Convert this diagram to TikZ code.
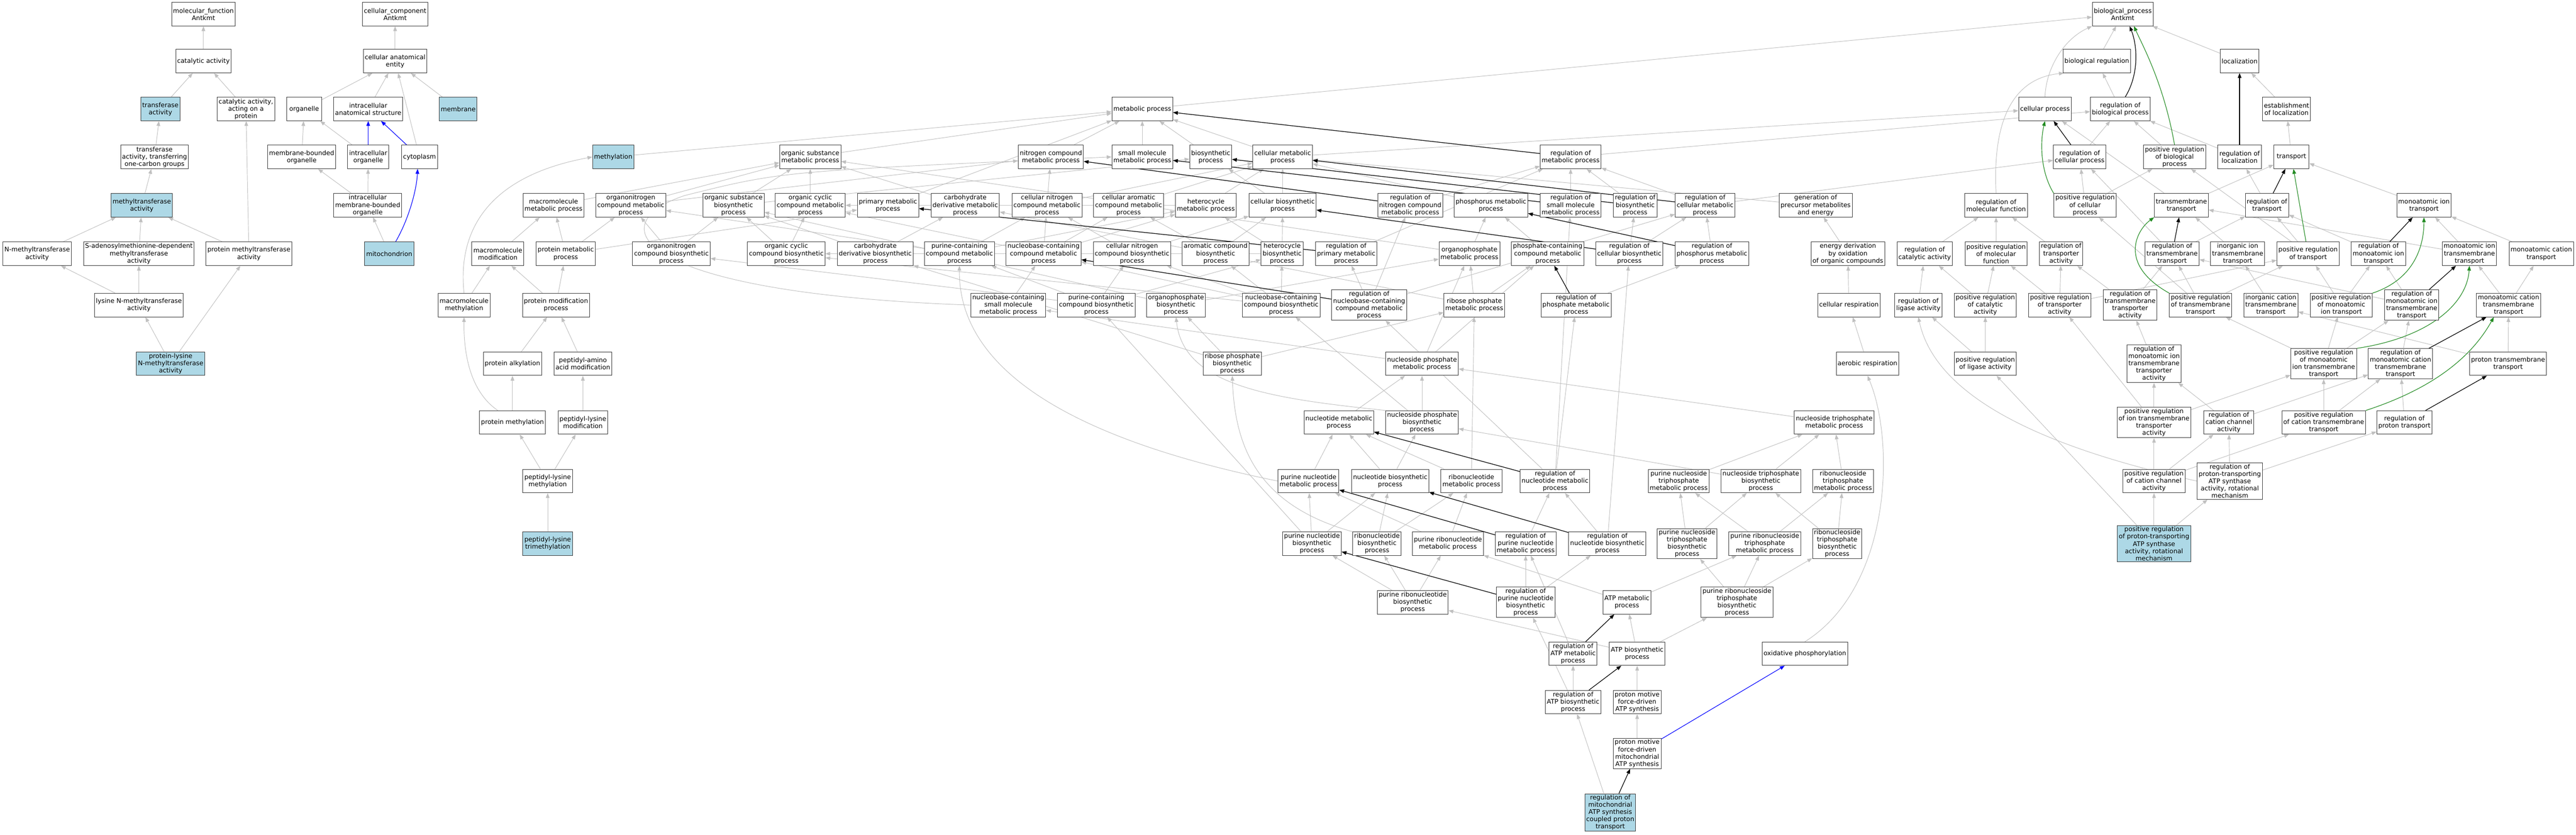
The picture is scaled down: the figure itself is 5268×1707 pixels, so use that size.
\documentclass[tikz,border=0pt]{standalone}
\usepackage{fontspec}
\setmainfont{DejaVu Sans}
\usetikzlibrary{arrows.meta}
\definecolor{edgegray}{HTML}{C0C0C0}
\definecolor{lblue}{HTML}{ADD8E6}
\definecolor{fgreen}{HTML}{228B22}
\newcommand\nf{\fontsize{13}{14.8}\selectfont}
\pgfdeclarelayer{back}\pgfdeclarelayer{edges}\pgfsetlayers{back,edges,main}
\tikzset{
 gobox/.style={draw=black!78, line width=1pt, fill=white, align=center, inner xsep=3pt, inner ysep=2.5pt, minimum width=72pt, minimum height=48pt, font=\nf},
 gohl/.style={gobox, fill=lblue},
 isa/.style={draw=edgegray, line width=1pt, -{Triangle[length=10pt,width=7.5pt]}},
 regl/.style={draw=black, line width=1.3pt, -{Triangle[length=10pt,width=7.5pt]}},
 posreg/.style={draw=fgreen, line width=1.2pt, -{Triangle[length=10pt,width=7.5pt]}},
 partof/.style={draw=blue, line width=1.2pt, -{Triangle[length=10pt,width=7.5pt]}}
}
\begin{document}
\begin{tikzpicture}[x=1pt,y=-1pt]
\begin{pgfonlayer}{back}
\fill[white] (0,0) rectangle (5268,1707);
\end{pgfonlayer}
\useasboundingbox (0,0) rectangle (5268,1707);
% ---------- molecular function ----------
\node[gobox] (mf) at (416,29) {molecular\_function\\Antkmt};
\node[gobox] (ca) at (416,125) {catalytic activity};
\node[gohl] (ta) at (328,223) {transferase\\activity};
\node[gobox] (cap) at (503,223) {catalytic activity,\\acting on a\\protein};
\node[gobox] (ta1) at (316,321) {transferase\\activity, transferring\\one-carbon groups};
\node[gohl] (mta) at (290,420) {methyltransferase\\activity};
\node[gobox] (nmt) at (76,519) {N-methyltransferase\\activity};
\node[gobox] (sam) at (284,519) {S-adenosylmethionine-dependent\\methyltransferase\\activity};
\node[gobox] (pmt) at (509,519) {protein methyltransferase\\activity};
\node[gobox] (lnm) at (284,624) {lysine N-methyltransferase\\activity};
\node[gohl] (plnm) at (349,744) {protein-lysine\\N-methyltransferase\\activity};
% ---------- cellular component ----------
\node[gobox] (cc) at (808,29) {cellular\_component\\Antkmt};
\node[gobox] (cae) at (808,125) {cellular anatomical\\entity};
\node[gobox] (org) at (622,223) {organelle};
\node[gobox] (ias) at (753,223) {intracellular\\anatomical structure};
\node[gohl] (mem) at (937,223) {membrane};
\node[gobox] (mbo) at (617,321) {membrane-bounded\\organelle};
\node[gobox] (io) at (753,321) {intracellular\\organelle};
\node[gobox] (cyt) at (858,321) {cytoplasm};
\node[gobox] (imbo) at (752,420) {intracellular\\membrane-bounded\\organelle};
\node[gohl] (mito) at (796,519) {mitochondrion};
% ---------- biological process, left ----------
\node[gohl] (meth) at (1254,321) {methylation};
\node[gobox] (osmp) at (1657,321) {organic substance\\metabolic process};
\node[gobox] (mmp) at (1132,420) {macromolecule\\metabolic process};
\node[gobox] (ocmp) at (1290,420) {organonitrogen\\compound metabolic\\process};
\node[gobox] (osbp) at (1500,420) {organic substance\\biosynthetic\\process};
\node[gobox] (occmp) at (1657,420) {organic cyclic\\compound metabolic\\process};
\node[gobox] (pmp) at (1816,420) {primary metabolic\\process};
\node[gobox] (mmod) at (1018,519) {macromolecule\\modification};
\node[gobox] (protmp) at (1157,519) {protein metabolic\\process};
\node[gobox] (ocbp) at (1373,519) {organonitrogen\\compound biosynthetic\\process};
\node[gobox] (occbp) at (1608,519) {organic cyclic\\compound biosynthetic\\process};
\node[gobox] (cdbp) at (1790,519) {carbohydrate\\derivative biosynthetic\\process};
\node[gobox] (mmeth) at (949,624) {macromolecule\\methylation};
\node[gobox] (pmod) at (1137,624) {protein modification\\process};
\node[gobox] (palk) at (1048,744) {protein alkylation};
\node[gobox] (paam) at (1192,744) {peptidyl-amino\\acid modification};
\node[gobox] (pmeth) at (1048,864) {protein methylation};
\node[gobox] (plm) at (1192,864) {peptidyl-lysine\\modification};
\node[gobox] (plme) at (1120,984) {peptidyl-lysine\\methylation};
\node[gohl] (plt) at (1120,1112) {peptidyl-lysine\\trimethylation};
% ---------- middle ----------
\node[gobox] (mp) at (2336,223) {metabolic process};
\node[gobox] (ncmp) at (2149,321) {nitrogen compound\\metabolic process};
\node[gobox] (smmp) at (2336,321) {small molecule\\metabolic process};
\node[gobox] (bp) at (2476,321) {biosynthetic\\process};
\node[gobox] (cmp) at (2623,321) {cellular metabolic\\process};
\node[gobox] (cdmp) at (1974,420) {carbohydrate\\derivative metabolic\\process};
\node[gobox] (cncmp) at (2141,420) {cellular nitrogen\\compound metabolic\\process};
\node[gobox] (cacmp) at (2308,420) {cellular aromatic\\compound metabolic\\process};
\node[gobox] (hmp) at (2466,420) {heterocycle\\metabolic process};
\node[gobox] (cbp) at (2623,420) {cellular biosynthetic\\process};
\node[gobox] (pccmp) at (1962,519) {purine-containing\\compound metabolic\\process};
\node[gobox] (nbcmp) at (2134,519) {nucleobase-containing\\compound metabolic\\process};
\node[gobox] (cncbp) at (2315,519) {cellular nitrogen\\compound biosynthetic\\process};
\node[gobox] (acbp) at (2486,519) {aromatic compound\\biosynthetic\\process};
\node[gobox] (hbp) at (2622,519) {heterocycle\\biosynthetic\\process};
\node[gobox] (nbsm) at (2062,624) {nucleobase-containing\\small molecule\\metabolic process};
\node[gobox] (pccbp) at (2242,624) {purine-containing\\compound biosynthetic\\process};
\node[gobox] (opbp) at (2405,624) {organophosphate\\biosynthetic\\process};
\node[gobox] (nbcbp) at (2620,624) {nucleobase-containing\\compound biosynthetic\\process};
\node[gobox] (rpbp) at (2520,744) {ribose phosphate\\biosynthetic\\process};
\node[gobox] (rmp) at (3212,321) {regulation of\\metabolic process};
\node[gobox] (rncmp) at (2884,420) {regulation of\\nitrogen compound\\metabolic process};
\node[gobox] (phmp) at (3049,420) {phosphorus metabolic\\process};
\node[gobox] (rsmmp) at (3212,420) {regulation of\\small molecule\\metabolic process};
\node[gobox] (rbp) at (3344,420) {regulation of\\biosynthetic\\process};
\node[gobox] (rcmp) at (3487,420) {regulation of\\cellular metabolic\\process};
\node[gobox] (rpmp) at (2753,519) {regulation of\\primary metabolic\\process};
\node[gobox] (opmp) at (3005,519) {organophosphate\\metabolic process};
\node[gobox] (pcmp) at (3165,519) {phosphate-containing\\compound metabolic\\process};
\node[gobox] (rcbp) at (3332,519) {regulation of\\cellular biosynthetic\\process};
\node[gobox] (rphmp) at (3501,519) {regulation of\\phosphorus metabolic\\process};
\node[gobox] (rnbcmp) at (2800,624) {regulation of\\nucleobase-containing\\compound metabolic\\process};
\node[gobox] (rpmpm) at (3015,624) {ribose phosphate\\metabolic process};
\node[gobox] (rphatmp) at (3223,624) {regulation of\\phosphate metabolic\\process};
\node[gobox] (npmp) at (2908,744) {nucleoside phosphate\\metabolic process};
\node[gobox] (nmp) at (2738,864) {nucleotide metabolic\\process};
\node[gobox] (npbp) at (2908,864) {nucleoside phosphate\\biosynthetic\\process};
\node[gobox] (ntmp) at (3751,864) {nucleoside triphosphate\\metabolic process};
\node[gobox] (pnmp) at (2676,984) {purine nucleotide\\metabolic process};
\node[gobox] (nbp) at (2843,984) {nucleotide biosynthetic\\process};
\node[gobox] (rnmp) at (3009,984) {ribonucleotide\\metabolic process};
\node[gobox] (rnm) at (3180,984) {regulation of\\nucleotide metabolic\\process};
\node[gobox] (pntmp) at (3433,984) {purine nucleoside\\triphosphate\\metabolic process};
\node[gobox] (ntbp) at (3601,984) {nucleoside triphosphate\\biosynthetic\\process};
\node[gobox] (rntmp) at (3769,984) {ribonucleoside\\triphosphate\\metabolic process};
\node[gobox] (pnbp) at (2683,1112) {purine nucleotide\\biosynthetic\\process};
\node[gobox] (rnbp) at (2816,1112) {ribonucleotide\\biosynthetic\\process};
\node[gobox] (prmp) at (2961,1112) {purine ribonucleotide\\metabolic process};
\node[gobox] (rpnm) at (3120,1112) {regulation of\\purine nucleotide\\metabolic process};
\node[gobox] (rnb) at (3287,1112) {regulation of\\nucleotide biosynthetic\\process};
\node[gobox] (pntbp) at (3450,1112) {purine nucleoside\\triphosphate\\biosynthetic\\process};
\node[gobox] (prtmp) at (3609,1112) {purine ribonucleoside\\triphosphate\\metabolic process};
\node[gobox] (rtbp) at (3757,1112) {ribonucleoside\\triphosphate\\biosynthetic\\process};
\node[gobox] (prbp) at (2889,1232) {purine ribonucleotide\\biosynthetic\\process};
\node[gobox] (rpnb) at (3120,1232) {regulation of\\purine nucleotide\\biosynthetic\\process};
\node[gobox] (atpm) at (3327,1232) {ATP metabolic\\process};
\node[gobox] (prtbp) at (3552,1232) {purine ribonucleoside\\triphosphate\\biosynthetic\\process};
\node[gobox] (ratpm) at (3217,1337) {regulation of\\ATP metabolic\\process};
\node[gobox] (atpb) at (3348,1337) {ATP biosynthetic\\process};
\node[gobox] (oxp) at (3691,1337) {oxidative phosphorylation};
\node[gobox] (ratpb) at (3217,1436) {regulation of\\ATP biosynthetic\\process};
\node[gobox] (pmf) at (3348,1436) {proton motive\\force-driven\\ATP synthesis};
\node[gobox] (pmfm) at (3348,1541) {proton motive\\force-driven\\mitochondrial\\ATP synthesis};
\node[gohl] (rmit) at (3293,1662) {regulation of\\mitochondrial\\ATP synthesis\\coupled proton\\transport};
% ---------- right ----------
\node[gobox] (bpr) at (4341,29) {biological\_process\\Antkmt};
\node[gobox] (breg) at (4288,125) {biological regulation};
\node[gobox] (loc) at (4580,125) {localization};
\node[gobox] (cp) at (4182,223) {cellular process};
\node[gobox] (rbiop) at (4336,223) {regulation of\\biological process};
\node[gobox] (eloc) at (4676,223) {establishment\\of localization};
\node[gobox] (rcp) at (4253,321) {regulation of\\cellular process};
\node[gobox] (prbiop) at (4447,321) {positive regulation\\of biological\\process};
\node[gobox] (rloc) at (4580,321) {regulation of\\localization};
\node[gobox] (tr) at (4686,321) {transport};
\node[gobox] (gpme) at (3713,420) {generation of\\precursor metabolites\\and energy};
\node[gobox] (rmf) at (4082,420) {regulation of\\molecular function};
\node[gobox] (prcp) at (4264,420) {positive regulation\\of cellular\\process};
\node[gobox] (tmt) at (4461,420) {transmembrane\\transport};
\node[gobox] (rtr) at (4636,420) {regulation of\\transport};
\node[gobox] (mit) at (4957,420) {monoatomic ion\\transport};
\node[gobox] (edo) at (3779,519) {energy derivation\\by oxidation\\of organic compounds};
\node[gobox] (rca) at (3936,519) {regulation of\\catalytic activity};
\node[gobox] (prmf) at (4082,519) {positive regulation\\of molecular\\function};
\node[gobox] (rta) at (4215,519) {regulation of\\transporter\\activity};
\node[gobox] (rtmt) at (4442,519) {regulation of\\transmembrane\\transport};
\node[gobox] (iitt) at (4576,519) {inorganic ion\\transmembrane\\transport};
\node[gobox] (prtr) at (4720,519) {positive regulation\\of transport};
\node[gobox] (rmit2) at (4864,519) {regulation of\\monoatomic ion\\transport};
\node[gobox] (mitt) at (5050,519) {monoatomic ion\\transmembrane\\transport};
\node[gobox] (mct) at (5197,519) {monoatomic cation\\transport};
\node[gobox] (cr) at (3781,624) {cellular respiration};
\node[gobox] (rla) at (3923,624) {regulation of\\ligase activity};
\node[gobox] (prca) at (4060,624) {positive regulation\\of catalytic\\activity};
\node[gobox] (prta) at (4212,624) {positive regulation\\of transporter\\activity};
\node[gobox] (rtta) at (4356,624) {regulation of\\transmembrane\\transporter\\activity};
\node[gobox] (prtmt) at (4500,624) {positive regulation\\of transmembrane\\transport};
\node[gobox] (ictt) at (4644,624) {inorganic cation\\transmembrane\\transport};
\node[gobox] (prmit) at (4788,624) {positive regulation\\of monoatomic\\ion transport};
\node[gobox] (rmitt) at (4932,624) {regulation of\\monoatomic ion\\transmembrane\\transport};
\node[gobox] (mctt) at (5130,624) {monoatomic cation\\transmembrane\\transport};
\node[gobox] (ar) at (3819,744) {aerobic respiration};
\node[gobox] (prla) at (4060,744) {positive regulation\\of ligase activity};
\node[gobox] (rmitta) at (4405,744) {regulation of\\monoatomic ion\\transmembrane\\transporter\\activity};
\node[gobox] (prmitt) at (4752,744) {positive regulation\\of monoatomic\\ion transmembrane\\transport};
\node[gobox] (rmctt) at (4909,744) {regulation of\\monoatomic cation\\transmembrane\\transport};
\node[gobox] (ptt) at (5129,744) {proton transmembrane\\transport};
\node[gobox] (pritta) at (4405,864) {positive regulation\\of ion transmembrane\\transporter\\activity};
\node[gobox] (rcca) at (4558,864) {regulation of\\cation channel\\activity};
\node[gobox] (prctt) at (4752,864) {positive regulation\\of cation transmembrane\\transport};
\node[gobox] (rpt) at (4917,864) {regulation of\\proton transport};
\node[gobox] (prcca) at (4405,984) {positive regulation\\of cation channel\\activity};
\node[gobox] (rpta) at (4560,984) {regulation of\\proton-transporting\\ATP synthase\\activity, rotational\\mechanism};
\node[gohl] (prpta) at (4405,1112) {positive regulation\\of proton-transporting\\ATP synthase\\activity, rotational\\mechanism};
% ---------- edges ----------
\begin{pgfonlayer}{edges}
\foreach \a/\b in {ca/mf, ta/ca, cap/ca, ta1/ta, mta/ta1, nmt/mta, sam/mta, pmt/mta, pmt/cap, lnm/nmt, lnm/sam, plnm/lnm, plnm/pmt,
 cae/cc, org/cae, ias/cae, cyt/cae, mem/cae, mbo/org, io/org, imbo/mbo, imbo/io, mito/imbo,
 mp/bpr, meth/mp, osmp/mp, ncmp/mp, smmp/mp, bp/mp, cmp/mp, cmp/cp, pmp/mp, rmp/rbiop, rbiop/breg, breg/bpr, prbiop/rbiop, rcp/rbiop, loc/bpr, eloc/loc, rloc/rbiop, tr/eloc,
 mmp/osmp, ocmp/osmp, ocmp/ncmp, osbp/osmp, osbp/bp, occmp/osmp, cdmp/osmp, cncmp/ncmp, cncmp/cmp, cacmp/cmp, hmp/occmp, hmp/cmp, cbp/cmp, cbp/bp, rncmp/rmp, phmp/cmp, rsmmp/rmp, rbp/rmp, rcmp/rmp, rcmp/rcp, gpme/cmp, prcp/rcp, prcp/prbiop, tmt/tr, tmt/cp, rtr/rloc, mit/tr,
 mmod/mmp, protmp/mmp, protmp/ocmp, protmp/pmp, ocbp/ocmp, ocbp/osbp, occbp/osbp, occbp/occmp, cdbp/osbp, cdbp/cdmp, pccmp/ocmp, pccmp/cncmp, pccmp/hmp, nbcmp/cncmp, nbcmp/cacmp, nbcmp/hmp, nbcmp/occmp, cncbp/cncmp, cncbp/cbp, acbp/cacmp, acbp/cbp, hbp/hmp, hbp/cbp, hbp/occbp, rpmp/rmp, opmp/phmp, opmp/osmp, pcmp/phmp, rcbp/rbp, rcbp/rcmp, rphmp/rcmp, edo/gpme, rca/rmf, prmf/rmf, rta/rmf, rtmt/rtr, rtmt/rcp, iitt/tmt, prtr/rtr, prtr/prbiop, rmit2/rtr, mitt/mit, mitt/tmt, mct/mit,
 mmeth/mmod, pmod/mmod, pmod/protmp, nbsm/nbcmp, pccbp/pccmp, pccbp/hbp, pccbp/ocbp, pccbp/cncbp, opbp/opmp, opbp/osbp, nbcbp/nbcmp, nbcbp/acbp, nbcbp/hbp, nbcbp/cncbp, nbcbp/occbp, rnbcmp/rpmp, rnbcmp/rncmp, rnbcmp/rcmp, rpmpm/opmp, rpmpm/cdmp, rpmpm/pcmp, rphatmp/rphmp, cr/edo, rla/rca, prca/rca, prca/prmf, prta/prmf, prta/rta, prta/prtr, rtta/rta, rtta/rtmt, prtmt/rtmt, prtmt/prtr, prtmt/prcp, ictt/iitt, prmit/rmit2, prmit/prtr, rmitt/rmit2, rmitt/rtmt, mctt/mitt, mctt/mct,
 palk/pmod, paam/pmod, rpbp/opbp, rpbp/rpmpm, rpbp/cdbp, npmp/nbsm, npmp/opmp, npmp/pcmp, ar/cr, prla/rla, prla/prca, rmitta/rtta, prmitt/prmit, prmitt/rmitt, prmitt/prtmt, rmctt/rmitt, ptt/mctt, ptt/ictt,
 pmeth/palk, plm/paam, nmp/npmp, npbp/npmp, npbp/nbcbp, ntmp/npmp, pritta/rmitta, pritta/prta, pritta/prmitt, rcca/rmitta, rcca/rmctt, prctt/prmitt, prctt/rmctt, rpt/rmctt,
 plme/pmeth, plme/plm, pnmp/nmp, nbp/nmp, nbp/npbp, rnmp/nmp, rnmp/rpmpm, rnm/rnbcmp, rnm/rphatmp, rnm/rsmmp, pntmp/ntmp, ntbp/ntmp, ntbp/npbp, rntmp/ntmp, prcca/pritta, prcca/rcca, prcca/prctt, rpta/rcca, rpta/rpt,
 plt/plme, pnbp/pnmp, pnbp/nbp, pnbp/pccbp, rnbp/rnmp, rnbp/nbp, prmp/pnmp, prmp/rnmp, rpnm/rnm, rnb/rnm, rnb/rcbp, pntbp/pntmp, pntbp/ntbp, prtmp/rntmp, prtmp/pntmp, rtbp/rntmp, rtbp/ntbp, prpta/prcca, prpta/rpta, prpta/prla,
 prbp/pnbp, prbp/rnbp, prbp/prmp, rpnb/rpnm, rpnb/rnb, atpm/prtmp, atpm/prmp, prtbp/pntbp, prtbp/prtmp, prtbp/rtbp,
 ratpm/rpnm, atpb/atpm, atpb/prbp, atpb/prtbp, ratpb/ratpm, ratpb/rpnb, pmf/atpb, pmfm/pmf, rmit/ratpb}
 {\draw[isa] (\a) -- (\b);}
% curved is_a edges
\draw[isa] (mmeth.north) .. controls (935,470) and (1000,360) .. (meth.west);
\draw[isa] ([xshift=-30pt]pmeth.north) .. controls (960,800) and (948,720) .. (mmeth.south);
\draw[isa] (nbsm.west) .. controls (1300,600) and (1220,460) .. (1400,400) .. controls (1600,350) .. (smmp.west);
\draw[isa] (pnmp.west) .. controls (2200,900) and (1960,760) .. (pccmp.south);
\draw[isa] (rnbp.north west) .. controls (2560,1030) and (2525,900) .. (rpbp.south);
\draw[isa] (npbp.north west) .. controls (2600,815) and (2420,790) .. (opbp.south);
\draw[isa] (oxp.north) .. controls (3870,1200) and (3875,900) .. (ar.south);
\draw[isa] (rpta.west) .. controls (4200,920) and (3960,820) .. (rla.south);
\draw[isa] (cp.north) .. controls (4184,140) and (4220,80) .. (bpr.south west);
\draw[isa] (rmf.north) .. controls (4074,240) and (4120,160) .. (breg.200);
% regulates (black)
\foreach \a/\b in {rmp/mp, rcp/cp, rloc/loc, rncmp/ncmp, rsmmp/smmp, rbp/bp, rcmp/cmp, rtr/tr, rpmp/pmp, rcbp/cbp, rphmp/phmp, rtmt/tmt, rmit2/mit, rnbcmp/nbcmp, rphatmp/pcmp, rmitt/mitt, rmctt/mctt, rpt/ptt, rnm/nmp, rpnm/pnmp, rnb/nbp, rpnb/pnbp, ratpm/atpm, ratpb/atpb, rmit/pmfm}
 {\draw[regl] (\a) -- (\b);}
\draw[regl] ([xshift=10pt]rbiop.north) .. controls (4376,150) and (4370,90) .. ([xshift=14pt]bpr.south);
% positively regulates (green)
\draw[posreg] (prbiop.north) .. controls (4425,170) and (4380,90) .. ([xshift=23pt]bpr.south);
\draw[posreg] (prtr) -- (tr);
\draw[posreg] (prcp.north west) .. controls (4172,350) and (4172,290) .. (cp.south);
\draw[posreg] (prtmt.north west) .. controls (4330,540) and (4370,470) .. (tmt.south west);
\draw[posreg] (prmit.north east) .. controls (4940,570) and (4957,500) .. (mit.south);
\draw[posreg] (prmitt.north east) .. controls (4970,690) and (5045,620) .. (mitt.south);
\draw[posreg] (prctt.north east) .. controls (4990,790) and (5060,720) .. ([xshift=-30pt]mctt.south);
% part of (blue)
\draw[partof] (io) -- (ias);
\draw[partof] (cyt) -- (ias);
\draw[partof] ([xshift=13pt]mito.north) .. controls (835,450) and (852,390) .. ([xshift=-4pt]cyt.south);
\draw[partof] (pmfm) -- (oxp);
\end{pgfonlayer}
\end{tikzpicture}
\end{document}
